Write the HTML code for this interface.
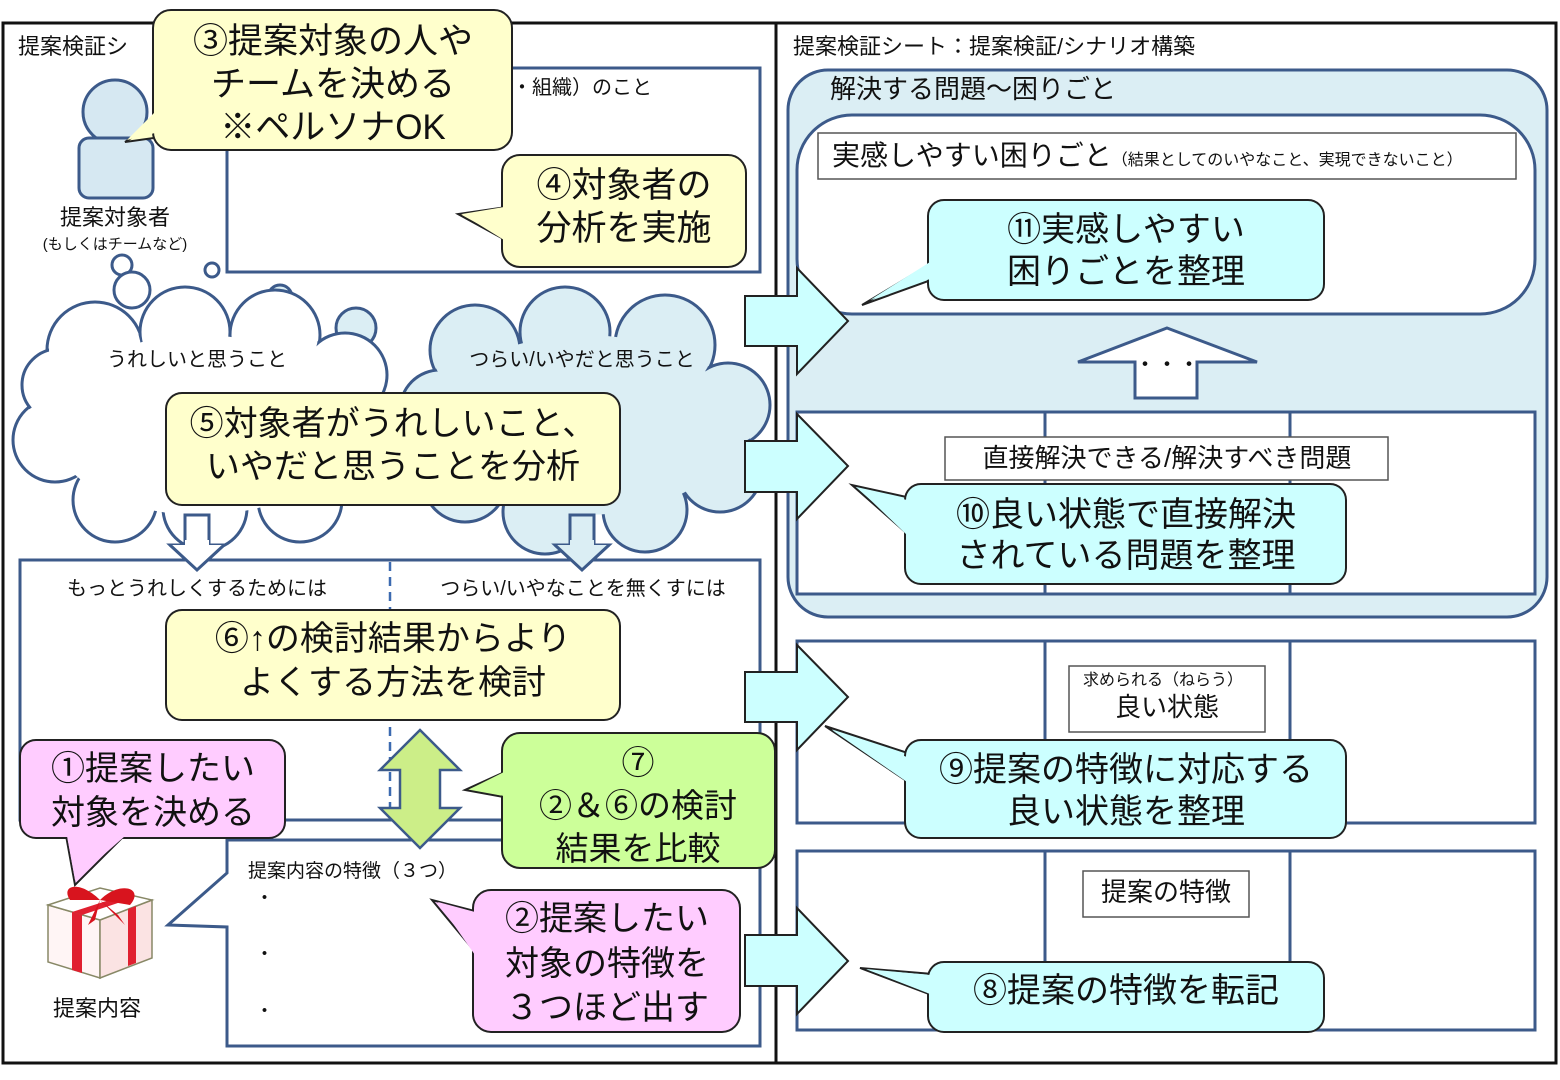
<!DOCTYPE html>
<html><head><meta charset="utf-8"><style>
html,body{margin:0;padding:0;background:#fff;}
svg{display:block;}
text{font-family:"Liberation Sans","Noto Sans CJK JP",sans-serif;fill:#111;}
</style></head><body>
<svg width="1560" height="1080" viewBox="0 0 1560 1080" xmlns="http://www.w3.org/2000/svg">
<rect width="1560" height="1080" fill="#fff"/>
<!-- frames -->
<rect x="3" y="23" width="773" height="1040" fill="#fff" stroke="#111" stroke-width="3"/>
<rect x="776" y="23" width="780" height="1040" fill="#fff" stroke="#111" stroke-width="3"/>
<text x="18" y="54" font-size="22">提案検証シ</text>
<text x="793" y="54" font-size="22">提案検証シート：提案検証/シナリオ構築</text>

<!-- left top box -->
<rect x="227" y="68" width="533" height="204" fill="#fff" stroke="#3c5a8a" stroke-width="3"/>
<text x="512" y="94" font-size="20">・組織）のこと</text>

<!-- person -->
<circle cx="115" cy="112" r="32" fill="#d6e8f2" stroke="#3c5a8a" stroke-width="3"/>
<rect x="79" y="138" width="74" height="60" rx="10" fill="#d6e8f2" stroke="#3c5a8a" stroke-width="3"/>
<text x="115" y="225" font-size="22" text-anchor="middle">提案対象者</text>
<text x="115" y="249" font-size="15" text-anchor="middle">(もしくはチームなど)</text>

<!-- callout 3 -->
<polygon points="175,110 125,142 175,135" fill="#ffffcc" stroke="#222" stroke-width="2"/>
<rect x="153" y="10" width="359" height="140" rx="18" fill="#ffffcc" stroke="#222" stroke-width="2"/>
<polygon points="155,112 127,140 155,133" fill="#ffffcc"/>
<text x="333" y="53" font-size="35" text-anchor="middle">③提案対象の人や</text>
<text x="333" y="96" font-size="35" text-anchor="middle">チームを決める</text>
<text x="333" y="139" font-size="35" text-anchor="middle">※ペルソナOK</text>

<!-- callout 4 -->
<polygon points="520,205 458,214 520,248" fill="#ffffcc" stroke="#222" stroke-width="2"/>
<rect x="502" y="155" width="244" height="112" rx="18" fill="#ffffcc" stroke="#222" stroke-width="2"/>
<polygon points="504,207 462,214 504,240" fill="#ffffcc"/>
<text x="624" y="197" font-size="35" text-anchor="middle">④対象者の</text>
<text x="624" y="240" font-size="35" text-anchor="middle">分析を実施</text>

<!-- thought bubbles -->
<g fill="#dbeef4" stroke="#3c5a8a" stroke-width="3">
<circle cx="122" cy="265" r="10" fill="#fff"/>
<circle cx="132" cy="290" r="18" fill="#fff"/>
<circle cx="212" cy="270" r="7" fill="#fff"/>
<circle cx="356" cy="328" r="20"/>
<circle cx="280" cy="297" r="12"/>
</g>

<!-- cloud 2 (blue) -->
<g stroke="#3c5a8a" stroke-width="3" fill="#dbeef4">
<circle cx="475" cy="350" r="45"/><circle cx="565" cy="332" r="45"/><circle cx="665" cy="345" r="50"/>
<circle cx="728" cy="405" r="42"/><circle cx="720" cy="470" r="42"/><circle cx="645" cy="510" r="42"/>
<circle cx="545" cy="512" r="42"/><circle cx="465" cy="480" r="42"/><circle cx="440" cy="410" r="40"/>
</g>
<g fill="#dbeef4">
<circle cx="475" cy="350" r="43"/><circle cx="565" cy="332" r="43"/><circle cx="665" cy="345" r="48"/>
<circle cx="728" cy="405" r="40"/><circle cx="720" cy="470" r="40"/><circle cx="645" cy="510" r="40"/>
<circle cx="545" cy="512" r="40"/><circle cx="465" cy="480" r="40"/><circle cx="440" cy="410" r="38"/>
<ellipse cx="585" cy="425" rx="150" ry="90"/>
</g>
<!-- cloud 1 (white) -->
<g stroke="#3c5a8a" stroke-width="3" fill="#fff">
<circle cx="95" cy="350" r="48"/><circle cx="185" cy="332" r="45"/><circle cx="275" cy="335" r="45"/>
<circle cx="345" cy="375" r="42"/><circle cx="352" cy="450" r="42"/><circle cx="300" cy="500" r="42"/>
<circle cx="205" cy="508" r="42"/><circle cx="115" cy="500" r="42"/><circle cx="55" cy="440" r="42"/>
<circle cx="58" cy="385" r="36"/>
</g>
<g fill="#fff">
<circle cx="95" cy="350" r="46"/><circle cx="185" cy="332" r="43"/><circle cx="275" cy="335" r="43"/>
<circle cx="345" cy="375" r="40"/><circle cx="352" cy="450" r="40"/><circle cx="300" cy="500" r="40"/>
<circle cx="205" cy="508" r="40"/><circle cx="115" cy="500" r="40"/><circle cx="55" cy="440" r="40"/>
<circle cx="58" cy="385" r="34"/>
<ellipse cx="200" cy="425" rx="150" ry="90"/>
</g>
<text x="197" y="366" font-size="20" text-anchor="middle">うれしいと思うこと</text>
<text x="582" y="366" font-size="20" text-anchor="middle">つらい/いやだと思うこと</text>

<!-- down arrows -->
<polygon points="185,515 209,515 209,545 224,545 197,570 170,545 185,545" fill="#fff" stroke="#3c5a8a" stroke-width="3"/>
<polygon points="570,515 594,515 594,545 609,545 582,570 555,545 570,545" fill="#dbeef4" stroke="#3c5a8a" stroke-width="3"/>

<!-- callout 5 -->
<rect x="166" y="393" width="454" height="112" rx="16" fill="#ffffcc" stroke="#222" stroke-width="2"/>
<text x="393" y="435" font-size="34" text-anchor="middle">⑤対象者がうれしいこと、</text>
<text x="393" y="478" font-size="34" text-anchor="middle">いやだと思うことを分析</text>

<!-- middle box -->
<rect x="20" y="560" width="740" height="260" fill="#fff" stroke="#3c5a8a" stroke-width="3"/>
<line x1="390" y1="562" x2="390" y2="818" stroke="#3c6ab0" stroke-width="2.5" stroke-dasharray="9,6"/>
<polygon points="185,540 209,540 209,545 224,545 197,570 170,545 185,545" fill="#fff"/>
<polygon points="570,540 594,540 594,545 609,545 582,570 555,545 570,545" fill="#dbeef4"/>
<polyline points="224,545 197,570 170,545" fill="none" stroke="#3c5a8a" stroke-width="3"/>
<polyline points="609,545 582,570 555,545" fill="none" stroke="#3c5a8a" stroke-width="3"/>
<text x="197" y="595" font-size="20" text-anchor="middle">もっとうれしくするためには</text>
<text x="583" y="595" font-size="20" text-anchor="middle">つらい/いやなことを無くすには</text>

<!-- callout 6 -->
<rect x="166" y="610" width="454" height="110" rx="16" fill="#ffffcc" stroke="#222" stroke-width="2"/>
<text x="393" y="650" font-size="34" text-anchor="middle">⑥↑の検討結果からより</text>
<text x="393" y="694" font-size="34" text-anchor="middle">よくする方法を検討</text>

<!-- bottom left box with notch -->
<polygon points="227,840 760,840 760,1046 227,1046 227,927 168,925 227,873" fill="#fff" stroke="#3c5a8a" stroke-width="3"/>
<text x="248" y="877" font-size="19">提案内容の特徴（３つ）</text>
<text x="255" y="904" font-size="19">・</text>
<text x="255" y="960" font-size="19">・</text>
<text x="255" y="1017" font-size="19">・</text>

<!-- double arrow -->
<polygon points="420,730 460,770 440,770 440,808 460,808 420,848 380,808 400,808 400,770 380,770" fill="#ccee88" stroke="#3c5a8a" stroke-width="2.5"/>

<!-- callout 7 -->
<polygon points="520,765 465,790 520,800" fill="#ccff99" stroke="#222" stroke-width="2"/>
<rect x="502" y="733" width="273" height="135" rx="18" fill="#ccff99" stroke="#222" stroke-width="2"/>
<polygon points="504,772 470,789 504,796" fill="#ccff99"/>
<text x="638" y="774" font-size="33" text-anchor="middle">⑦</text>
<text x="638" y="817" font-size="33" text-anchor="middle">②＆⑥の検討</text>
<text x="638" y="860" font-size="33" text-anchor="middle">結果を比較</text>

<!-- callout 1 -->
<polygon points="65,830 75,885 130,830" fill="#ffccff" stroke="#222" stroke-width="2"/>
<rect x="20" y="740" width="265" height="98" rx="16" fill="#ffccff" stroke="#222" stroke-width="2"/>
<polygon points="67,836 75,880 125,836" fill="#ffccff"/>
<text x="153" y="780" font-size="34" text-anchor="middle">①提案したい</text>
<text x="153" y="824" font-size="34" text-anchor="middle">対象を決める</text>

<!-- gift -->
<g>
<polygon points="48,905 100,920 100,978 48,962" fill="#fff5f5" stroke="#886" stroke-width="1.5"/>
<polygon points="100,920 152,900 152,958 100,978" fill="#fbe3e3" stroke="#886" stroke-width="1.5"/>
<polygon points="48,905 100,888 152,900 100,920" fill="#fff" stroke="#886" stroke-width="1.5"/>
<polygon points="72,912 82,915 82,973 72,970" fill="#e02030"/>
<polygon points="128,909 136,906 136,963 128,966" fill="#e02030"/>
<polygon points="72,912 125,895 133,898 82,915" fill="#e02030"/>
<path d="M100,900 C80,880 60,885 70,900 Z M100,900 C120,880 145,888 130,905 Z M100,900 L88,925 L95,920 Z M100,900 L125,925 L118,915 Z" fill="#d8141e"/>
</g>
<text x="97" y="1016" font-size="22" text-anchor="middle">提案内容</text>

<!-- callout 2 -->
<polygon points="490,915 432,900 490,970" fill="#ffccff" stroke="#222" stroke-width="2"/>
<rect x="473" y="890" width="267" height="142" rx="18" fill="#ffccff" stroke="#222" stroke-width="2"/>
<polygon points="475,912 438,902 475,955" fill="#ffccff"/>
<text x="607" y="930" font-size="34" text-anchor="middle">②提案したい</text>
<text x="607" y="975" font-size="34" text-anchor="middle">対象の特徴を</text>
<text x="607" y="1019" font-size="34" text-anchor="middle">３つほど出す</text>

<!-- RIGHT -->
<rect x="788" y="70" width="759" height="547" rx="40" fill="#dbeef4" stroke="#3c5a8a" stroke-width="3"/>
<text x="830" y="98" font-size="26">解決する問題〜困りごと</text>
<rect x="797" y="115" width="738" height="199" rx="55" fill="#fff" stroke="#3c5a8a" stroke-width="3"/>
<rect x="818" y="133" width="698" height="46" fill="#fff" stroke="#555" stroke-width="1.5"/>
<text x="832" y="165" font-size="28">実感しやすい困りごと<tspan font-size="16">（結果としてのいやなこと、実現できないこと）</tspan></text>

<!-- up arrow -->
<polygon points="1167,328 1257,362 1197,362 1197,398 1135,398 1135,362 1078,362" fill="#fff" stroke="#3c5a8a" stroke-width="3"/>
<text x="1167" y="372" font-size="22" text-anchor="middle">・・・</text>

<!-- table 1 -->
<rect x="797" y="412" width="738" height="182" fill="#fff" stroke="#3c5a8a" stroke-width="3"/>
<line x1="1045" y1="412" x2="1045" y2="594" stroke="#3c5a8a" stroke-width="3"/>
<line x1="1290" y1="412" x2="1290" y2="594" stroke="#3c5a8a" stroke-width="3"/>
<rect x="945" y="437" width="443" height="43" fill="#fff" stroke="#555" stroke-width="1.5"/>
<text x="1167" y="467" font-size="26" text-anchor="middle">直接解決できる/解決すべき問題</text>

<!-- table 2 -->
<rect x="797" y="641" width="738" height="182" fill="#fff" stroke="#3c5a8a" stroke-width="3"/>
<line x1="1045" y1="641" x2="1045" y2="823" stroke="#3c5a8a" stroke-width="3"/>
<line x1="1290" y1="641" x2="1290" y2="823" stroke="#3c5a8a" stroke-width="3"/>
<rect x="1069" y="666" width="196" height="66" fill="#fff" stroke="#555" stroke-width="1.5"/>
<text x="1163" y="685" font-size="16" text-anchor="middle">求められる（ねらう）</text>
<text x="1167" y="716" font-size="26" text-anchor="middle">良い状態</text>

<!-- table 3 -->
<rect x="797" y="851" width="738" height="179" fill="#fff" stroke="#3c5a8a" stroke-width="3"/>
<line x1="1045" y1="851" x2="1045" y2="962" stroke="#3c5a8a" stroke-width="3"/>
<line x1="1290" y1="851" x2="1290" y2="962" stroke="#3c5a8a" stroke-width="3"/>
<rect x="1083" y="871" width="166" height="46" fill="#fff" stroke="#555" stroke-width="1.5"/>
<text x="1166" y="901" font-size="26" text-anchor="middle">提案の特徴</text>

<!-- block arrows -->
<g fill="#ccffff" stroke="#222" stroke-width="2">
<polygon points="745,296 797,296 797,268 848,321 797,374 797,346 745,346"/>
<polygon points="745,441 797,441 797,414 848,466 797,519 797,492 745,492"/>
<polygon points="745,672 797,672 797,645 848,697 797,750 797,722 745,722"/>
<polygon points="745,935 797,935 797,908 848,961 797,1014 797,986 745,986"/>
</g>

<!-- callout 11 -->
<polygon points="945,255 862,305 945,275" fill="#ccffff" stroke="#222" stroke-width="2"/>
<rect x="928" y="200" width="396" height="100" rx="16" fill="#ccffff" stroke="#222" stroke-width="2"/>
<polygon points="930,262 870,300 930,279" fill="#ccffff"/>
<text x="1126" y="241" font-size="34" text-anchor="middle">⑪実感しやすい</text>
<text x="1126" y="283" font-size="34" text-anchor="middle">困りごとを整理</text>

<!-- callout 10 -->
<polygon points="920,500 852,485 920,545" fill="#ccffff" stroke="#222" stroke-width="2"/>
<rect x="905" y="484" width="441" height="100" rx="16" fill="#ccffff" stroke="#222" stroke-width="2"/>
<polygon points="907,500 858,488 907,535" fill="#ccffff"/>
<text x="1126" y="526" font-size="34" text-anchor="middle">⑩良い状態で直接解決</text>
<text x="1126" y="567" font-size="34" text-anchor="middle">されている問題を整理</text>

<!-- callout 9 -->
<polygon points="920,757 825,726 920,790" fill="#ccffff" stroke="#222" stroke-width="2"/>
<rect x="905" y="740" width="441" height="98" rx="16" fill="#ccffff" stroke="#222" stroke-width="2"/>
<polygon points="907,757 832,730 907,782" fill="#ccffff"/>
<text x="1126" y="781" font-size="34" text-anchor="middle">⑨提案の特徴に対応する</text>
<text x="1126" y="823" font-size="34" text-anchor="middle">良い状態を整理</text>

<!-- callout 8 -->
<polygon points="945,975 860,968 945,1000" fill="#ccffff" stroke="#222" stroke-width="2"/>
<rect x="928" y="962" width="396" height="70" rx="16" fill="#ccffff" stroke="#222" stroke-width="2"/>
<polygon points="930,975 866,969 930,994" fill="#ccffff"/>
<text x="1126" y="1002" font-size="34" text-anchor="middle">⑧提案の特徴を転記</text>
</svg>
</body></html>
